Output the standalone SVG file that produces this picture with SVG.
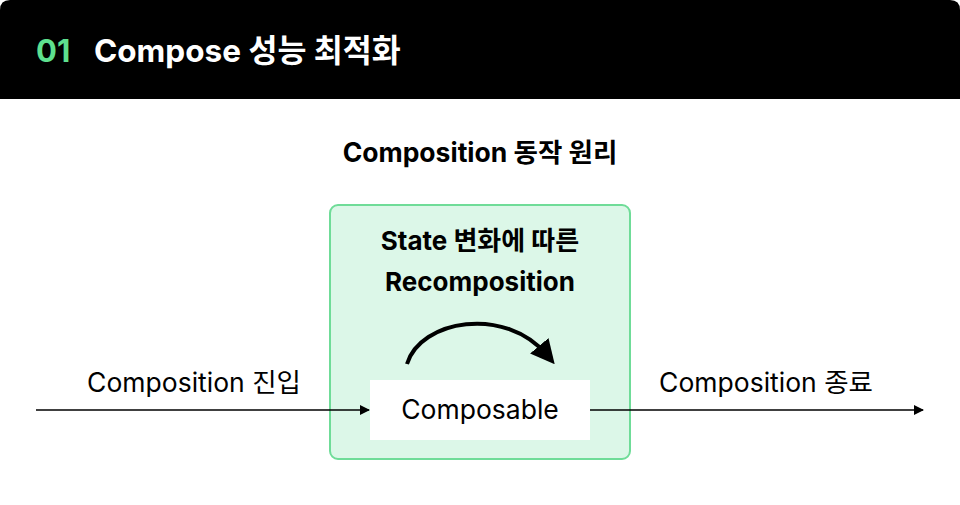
<svg xmlns="http://www.w3.org/2000/svg" width="960" height="505" viewBox="0 0 960 505">
<style>
text{font-family:Inter,"Noto Sans","Noto Sans CJK KR",sans-serif;}
.b{font-weight:700;}
.ln{stroke:#000;stroke-width:1.5;fill:none;}
</style>
<defs>
<marker id="ah" markerWidth="10" markerHeight="10" refX="9" refY="5" orient="auto" markerUnits="userSpaceOnUse"><path d="M0,0 L10,5 L0,10 z" fill="#000"/></marker>
<marker id="ah2" markerWidth="24" markerHeight="24" refX="12" refY="12" orient="auto" markerUnits="userSpaceOnUse"><path d="M0,0 L24,12 L0,24 z" fill="#000"/></marker>
</defs>
<rect width="960" height="505" fill="#fff"/>
<g id="header">
<path d="M0,10 Q0,0 10,0 H950 Q960,0 960,10 V99 H0 z" fill="#000"/>
<text x="36" y="62" font-size="31" class="b" fill="#5ee08f">01</text>
<text x="94" y="62" font-size="31.5" class="b" fill="#fff">Compose 성능 최적화</text>
</g>
<text x="480" y="162" font-size="26.5" class="b" text-anchor="middle">Composition 동작 원리</text>
<g id="state-box">
<rect x="330" y="205" width="300" height="254" rx="8" fill="#dcf7e8" stroke="#6fdc98" stroke-width="2"/>
<text x="480" y="250" font-size="26" class="b" text-anchor="middle">State 변화에 따른</text>
<text x="480" y="291" font-size="26" class="b" text-anchor="middle">Recomposition</text>
</g>
<g id="composable">
<rect x="370" y="380" width="220" height="60" fill="#fff"/>
<text x="480" y="419" font-size="26.5" text-anchor="middle">Composable</text>
</g>
<g id="labels">
<text x="194" y="392" font-size="26.5" text-anchor="middle">Composition 진입</text>
<text x="766" y="392" font-size="26.5" text-anchor="middle">Composition 종료</text>
</g>
<g id="connectors">
<line class="ln" x1="36" y1="410" x2="369" y2="410" marker-end="url(#ah)"/>
<line class="ln" x1="590" y1="410" x2="923" y2="410" marker-end="url(#ah)"/>
<path d="M407,364 C420,320 505,305 547,355" stroke="#000" stroke-width="4" fill="none" marker-end="url(#ah2)"/>
</g>
</svg>
